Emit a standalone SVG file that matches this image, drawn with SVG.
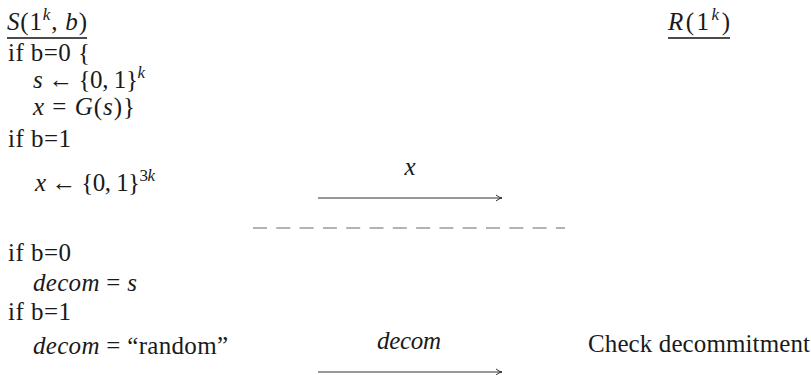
<svg xmlns="http://www.w3.org/2000/svg" width="811" height="375" viewBox="0 0 811 375">
<defs>
<style>
text{font-family:'Liberation Serif','DejaVu Serif',serif;font-size:25px;fill:#1a1a1a}
.i{font-style:italic}
.sup{font-size:17px}
.ul{stroke:#111;stroke-width:1.3}
.arr{stroke:#333;stroke-width:1;fill:none}
.dash{stroke:#9a9a9a;stroke-width:1.6;stroke-dasharray:14 9.3}
</style>
<marker id="ah" viewBox="0 0 10 10" refX="9" refY="5" markerWidth="10" markerHeight="10" markerUnits="userSpaceOnUse" orient="auto">
<path d="M3,2 Q6,4.5 9,5 Q6,5.5 3,8" fill="none" stroke="#333" stroke-width="1"/>
</marker>
</defs>

<g id="sender-header">
<text x="7" y="30" textLength="80"><tspan class="i">S</tspan>(1<tspan class="sup i" dy="-10">k</tspan><tspan dy="10">, </tspan><tspan class="i">b</tspan>)</text>
<line class="ul" x1="7" y1="38" x2="87" y2="38"/>
</g>

<g id="receiver-header">
<text x="668" y="30" textLength="62"><tspan class="i">R</tspan>(1<tspan class="sup i" dy="-10">k</tspan><tspan dy="10">)</tspan></text>
<line class="ul" x1="668" y1="38" x2="730" y2="38"/>
</g>

<g id="commit-phase">
<text x="8" y="61" textLength="82">if b=0 {</text>
<text x="33" y="88" textLength="112"><tspan class="i">s</tspan> ← {0, 1}<tspan class="sup i" dy="-10">k</tspan></text>
<text x="33" y="115" textLength="102"><tspan class="i">x</tspan> = <tspan class="i">G</tspan>(<tspan class="i">s</tspan>)}</text>
<text x="8" y="147" textLength="63">if b=1</text>
<text x="35" y="191" textLength="120"><tspan class="i">x</tspan> ← {0, 1}<tspan class="sup" dy="-10">3<tspan class="i">k</tspan></tspan></text>
</g>

<g id="decommit-phase">
<text x="8" y="261" textLength="63">if b=0</text>
<text x="33" y="291" textLength="104"><tspan class="i">decom</tspan> = <tspan class="i">s</tspan></text>
<text x="8" y="320" textLength="63">if b=1</text>
<text x="33" y="354" textLength="195"><tspan class="i">decom</tspan> = “random”</text>
</g>

<g id="receiver-check">
<text x="588" y="352" textLength="222">Check decommitment</text>
</g>

<g id="connectors">
<text class="i" x="410" y="175" text-anchor="middle">x</text>
<line class="arr" x1="318" y1="198" x2="502" y2="198" marker-end="url(#ah)"/>
<line class="dash" x1="253" y1="228" x2="565" y2="228"/>
<text class="i" x="377" y="349" textLength="64">decom</text>
<line class="arr" x1="318" y1="372" x2="502" y2="372" marker-end="url(#ah)"/>
</g>
</svg>
